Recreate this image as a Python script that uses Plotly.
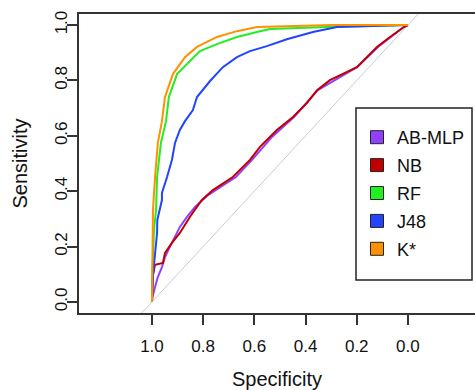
import plotly.graph_objects as go

# ---- data ----
series_names = ["AB-MLP", "NB", "RF", "J48", "K*"]
series_colors = ["#9040ff", "#c00000", "#22ee22", "#2244ff", "#ff9000"]

abmlp_spec = [1.0, 0.998, 0.988, 0.977, 0.961, 0.949, 0.930, 0.910, 0.891, 0.863, 0.832, 0.781,
              0.672, 0.609, 0.531, 0.445, 0.352, 0.199, 0.117, 0.016, 0.0]
abmlp_sens = [0.0, 0.018, 0.054, 0.090, 0.126, 0.162, 0.199, 0.235, 0.271, 0.307, 0.343, 0.386,
              0.451, 0.513, 0.596, 0.668, 0.765, 0.848, 0.921, 0.993, 1.0]

nb_spec = [1.0, 0.996, 0.988, 0.957, 0.949, 0.922, 0.891, 0.852, 0.805, 0.762, 0.684, 0.617,
           0.578, 0.539, 0.512, 0.449, 0.395, 0.355, 0.305, 0.199, 0.121, 0.070, 0.016, 0.0]
nb_sens = [0.0, 0.097, 0.134, 0.141, 0.177, 0.213, 0.249, 0.307, 0.368, 0.404, 0.451, 0.513,
           0.560, 0.596, 0.621, 0.668, 0.718, 0.765, 0.801, 0.848, 0.921, 0.957, 0.993, 1.0]

rf_spec = [1.0, 0.998, 0.992, 0.984, 0.980, 0.965, 0.945, 0.934, 0.902, 0.852, 0.8125, 0.746,
           0.668, 0.590, 0.539, 0.316, 0.03, 0.0]
rf_sens = [0.0, 0.116, 0.260, 0.332, 0.451, 0.574, 0.653, 0.740, 0.823, 0.870, 0.906, 0.931,
           0.957, 0.975, 0.986, 0.993, 1.0, 1.0]

j48_spec = [1.0, 0.996, 0.980, 0.979, 0.961, 0.961, 0.941, 0.922, 0.910, 0.891, 0.871, 0.840,
            0.824, 0.773, 0.723, 0.668, 0.617, 0.551, 0.473, 0.371, 0.277, 0.1875, 0.059, 0.0]
j48_sens = [0.0, 0.097, 0.249, 0.296, 0.368, 0.394, 0.451, 0.513, 0.574, 0.621, 0.653, 0.693,
            0.740, 0.798, 0.848, 0.884, 0.906, 0.924, 0.949, 0.975, 0.993, 0.996, 1.0, 1.0]

kstar_spec = [1.0, 0.998, 0.996, 0.988, 0.977, 0.961, 0.949, 0.918, 0.871, 0.824, 0.746, 0.668,
              0.590, 0.293, 0.0]
kstar_sens = [0.0, 0.188, 0.332, 0.451, 0.574, 0.653, 0.740, 0.823, 0.884, 0.921, 0.957, 0.978,
              0.993, 1.0, 1.0]

chance_spec = [1.5, -0.5]
chance_sens = [1 - s for s in chance_spec]

x_ticks = [1.0, 0.8, 0.6, 0.4, 0.2, 0.0]
y_ticks = [0.0, 0.2, 0.4, 0.6, 0.8, 1.0]

spec_list = [abmlp_spec, nb_spec, rf_spec, j48_spec, kstar_spec]
sens_list = [abmlp_sens, nb_sens, rf_sens, j48_sens, kstar_sens]

FONT = "Liberation Sans, Arial, sans-serif"
AX = "#333333"

W, H = 475, 390
ML, MR, MT, MB = 79, 0, 14, 77
PW, PH = W - ML - MR, H - MT - MB


def px_x(p):
    return (p - ML) / PW


def px_y(p):
    return (H - MB - p) / PH


fig = go.Figure()
fig.add_trace(go.Scatter(x=chance_spec, y=chance_sens, mode="lines",
                         line=dict(color="#c4ced8", width=1), showlegend=False, hoverinfo="skip"))
for name, col, xs, ys in zip(series_names, series_colors, spec_list, sens_list):
    fig.add_trace(go.Scatter(x=xs, y=ys, mode="lines", line=dict(color=col, width=2),
                             showlegend=False, name=name))
for name, col in zip(series_names, series_colors):
    fig.add_trace(go.Scatter(x=[None], y=[None], mode="markers", name=name, legendgroup=name,
                             marker=dict(symbol="square", size=13, color=col,
                                         line=dict(color="#222222", width=1))))

# legend frame
fig.add_shape(type="rect", xref="paper", yref="paper", layer="above",
              x0=px_x(356), x1=px_x(472), y0=px_y(280), y1=px_y(108),
              line=dict(color="#222222", width=1.5), fillcolor="white")

fig.update_layout(
    width=W, height=H,
    margin=dict(l=ML, r=MR, t=MT, b=MB),
    paper_bgcolor="white", plot_bgcolor="white",
    font=dict(family=FONT, size=17, color="#111111"),
    showlegend=True,
    legend=dict(x=px_x(357), y=px_y(119), xanchor="left", yanchor="top",
                borderwidth=0, bgcolor="rgba(0,0,0,0)",
                font=dict(family=FONT, size=18), tracegroupgap=1.5,
                itemsizing="trace"),
    xaxis=dict(range=[1.285, -0.262], tickvals=x_ticks, ticktext=[f"{v:.1f}" for v in x_ticks],
               showgrid=False, zeroline=False, showline=True, mirror=True, linecolor=AX,
               linewidth=1.5, ticks="outside", ticklen=10, tickcolor=AX, tickwidth=1.5,
               automargin=False, ticklabelstandoff=7,
               title=dict(text="Specificity", standoff=22)),
    yaxis=dict(range=[-0.040, 1.040], tickvals=y_ticks, ticktext=[f"{v:.1f}" for v in y_ticks],
               showgrid=False, zeroline=False, showline=True, linecolor=AX,
               linewidth=1.5, ticks="outside", ticklen=10, tickcolor=AX, tickwidth=1.5,
               tickangle=-90, ticklabelstandoff=-7, automargin=False,
               title=dict(text="Sensitivity", standoff=19)),
)

fig.write_html("out.html", config={"displayModeBar": False},
               post_script="document.body.style.margin='0';document.body.style.padding='0';")
